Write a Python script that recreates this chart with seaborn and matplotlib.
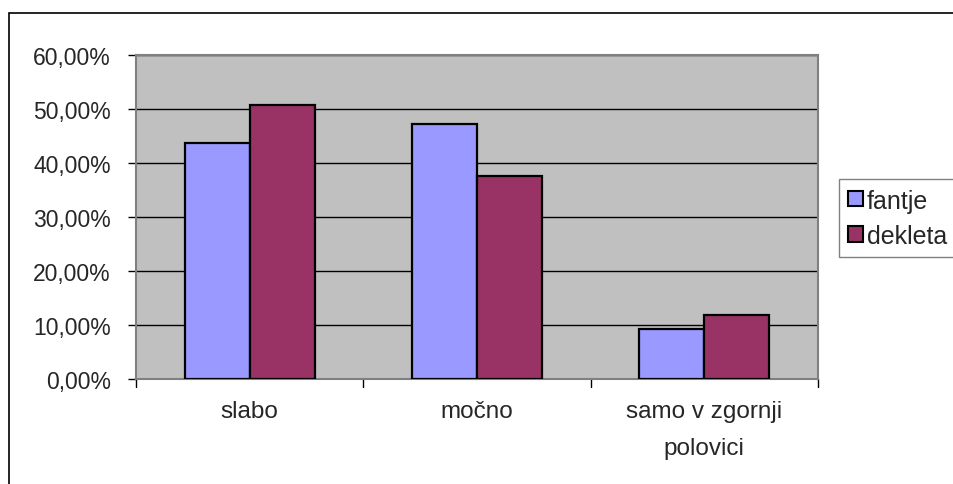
import matplotlib
matplotlib.use("Agg")
import matplotlib.pyplot as plt
from matplotlib.patches import Rectangle, Patch
from matplotlib.ticker import FuncFormatter
import seaborn as sns
import pandas as pd

categories = ["slabo", "močno", "samo v zgornji\npolovici"]
series_names = ["fantje", "dekleta"]
fantje = [43.7, 47.2, 9.2]
dekleta = [50.7, 37.6, 11.9]
colors = ["#9999FF", "#993366"]

df = pd.DataFrame({
    "kategorija": categories * 2,
    "spol": [series_names[0]] * 3 + [series_names[1]] * 3,
    "delez": fantje + dekleta,
})

sns.set_theme(style="white")
plt.rcParams["font.family"] = ["Liberation Sans", "DejaVu Sans"]

fig = plt.figure(figsize=(9.54, 4.85), dpi=100)
ax = fig.add_axes([136 / 954, 1 - 380 / 485, 682 / 954, 324 / 485])
ax.set_facecolor("#C0C0C0")

sns.barplot(data=df, x="kategorija", y="delez", hue="spol",
            palette=colors, saturation=1, width=0.572, gap=0, ax=ax,
            edgecolor="black", linewidth=1.6, legend=False, zorder=3)

ax.set_ylim(0, 60)
ax.set_xlim(-0.5, 2.5)
ax.set_yticks(range(0, 61, 10))
ax.yaxis.set_major_formatter(
    FuncFormatter(lambda v, _: f"{v:.2f}%".replace(".", ",")))
ax.grid(axis="y", color="black", linewidth=1.0, zorder=1)
ax.set_axisbelow(True)

# category labels centred, tick marks on category boundaries
ax.set_xticks([0, 1, 2])
ax.set_xticklabels(categories)
ax.tick_params(axis="x", length=0, pad=15, labelsize=17.5)
for b in [-0.5, 0.5, 1.5, 2.5]:
    ax.plot([b, b], [0, -0.025], transform=ax.get_xaxis_transform(),
            color="black", lw=1.0, clip_on=False)
ax.tick_params(axis="y", length=6, width=1.0, color="black",
               direction="out", left=True, pad=12, labelsize=16.5)
for lbl in ax.get_xticklabels():
    lbl.set_horizontalalignment("center")
    lbl.set_linespacing(1.88)

for s in ax.spines.values():
    s.set_visible(True)
    s.set_color("#808080")
    s.set_linewidth(1.5)
ax.set_xlabel("")
ax.set_ylabel("")

handles = [Patch(facecolor=c, edgecolor="black", linewidth=1.5) for c in colors]
leg = fig.legend(handles, series_names, loc="upper left",
                 bbox_to_anchor=(839 / 954, 1 - 180 / 485),
                 frameon=True, fancybox=False, fontsize=18,
                 handlelength=0.58, handleheight=0.58, handletextpad=0.15,
                 borderpad=0.38, labelspacing=0.45, borderaxespad=0)
leg.get_frame().set_edgecolor("#606060")
leg.get_frame().set_linewidth(1.0)

# outer chart frame
fig.patches.append(Rectangle((9 / 954, -0.1), 1.2, 0.1 + 1 - 14 / 485,
                             transform=fig.transFigure, fill=False,
                             edgecolor="black", linewidth=1.2))

fig.savefig("out.png", dpi=100, facecolor="white")
